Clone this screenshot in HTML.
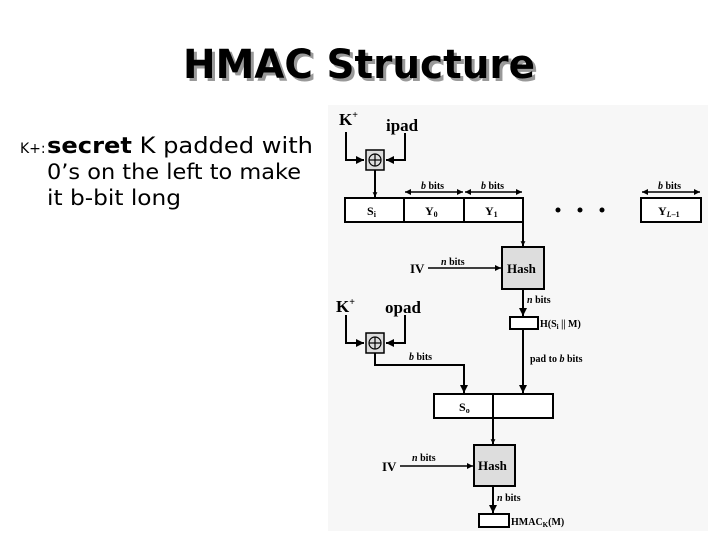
<!DOCTYPE html>
<html><head><meta charset="utf-8"><style>
html,body{margin:0;padding:0;background:#fff;width:720px;height:540px;overflow:hidden}
svg{display:block}
.s{font-family:"Liberation Serif",serif;font-weight:bold;fill:#000}
.bi{font-family:"Liberation Serif",serif;font-weight:bold;font-size:10px;fill:#000}
</style></head><body>
<svg width="720" height="540" viewBox="0 0 720 540" xmlns="http://www.w3.org/2000/svg">
<defs>
<marker id="a" viewBox="0 0 10 10" refX="10" refY="5" markerWidth="4" markerHeight="4" orient="auto-start-reverse"><path d="M0,0L10,5L0,10z" fill="#000"/></marker>
<marker id="big" viewBox="0 0 10 10" refX="10" refY="5" markerWidth="2.4" markerHeight="3" orient="auto"><path d="M0,0L10,5L0,10z" fill="#000"/></marker>
</defs>
<!-- title -->
<text x="186" y="81" font-family="DejaVu Sans,sans-serif" font-weight="bold" font-size="40" fill="#999" textLength="352" lengthAdjust="spacingAndGlyphs">HMAC Structure</text>
<text x="183" y="78" font-family="DejaVu Sans,sans-serif" font-weight="bold" font-size="40" fill="#000" textLength="352" lengthAdjust="spacingAndGlyphs">HMAC Structure</text>
<!-- left text -->
<g font-family="DejaVu Sans,sans-serif" fill="#000">
<text x="20" y="153" font-size="14">K+:</text>
<text x="47" y="153" font-size="22" textLength="266" lengthAdjust="spacingAndGlyphs"><tspan font-weight="bold">secret</tspan> K padded with</text>
<text x="47" y="179" font-size="21" textLength="254" lengthAdjust="spacingAndGlyphs">0’s on the left to make</text>
<text x="47" y="205" font-size="21" textLength="134" lengthAdjust="spacingAndGlyphs">it b-bit long</text>
</g>
<!-- figure bg -->
<rect x="328" y="105" width="380" height="426" fill="#f7f7f7"/>
<g stroke="#000" stroke-width="2" fill="none">
<!-- top xor -->
<polyline points="346,132 346,160 364,160" marker-end="url(#a)"/>
<polyline points="405,133 405,160 386,160" marker-end="url(#a)"/>
<rect x="366" y="150" width="18" height="20" fill="#ddd" stroke-width="1.5"/>
<circle cx="375" cy="160" r="6" stroke-width="1.2"/>
<line x1="369" y1="160" x2="381" y2="160" stroke-width="1.2"/><line x1="375" y1="154" x2="375" y2="166" stroke-width="1.2"/>
<line x1="375" y1="170" x2="375" y2="197" marker-end="url(#big)"/>
<!-- row -->
<rect x="345" y="198" width="178" height="24" fill="#fff"/>
<line x1="404" y1="198" x2="404" y2="222"/><line x1="464" y1="198" x2="464" y2="222"/>
<rect x="641" y="198" width="60" height="24" fill="#fff"/>
<line x1="405" y1="192" x2="463" y2="192" stroke-width="1.5" marker-start="url(#a)" marker-end="url(#a)"/>
<line x1="465" y1="192" x2="522" y2="192" stroke-width="1.5" marker-start="url(#a)" marker-end="url(#a)"/>
<line x1="642" y1="192" x2="700" y2="192" stroke-width="1.5" marker-start="url(#a)" marker-end="url(#a)"/>
<line x1="523" y1="222" x2="523" y2="246" marker-end="url(#big)"/>
<rect x="502" y="247" width="42" height="42" fill="#ddd"/>
<line x1="428" y1="268" x2="501" y2="268" stroke-width="1.5" marker-end="url(#a)"/>
<line x1="523" y1="289" x2="523" y2="316" marker-end="url(#a)"/>
<rect x="510" y="317" width="28" height="12" fill="#fff"/>
<line x1="523" y1="329" x2="523" y2="393" marker-end="url(#a)"/>
<!-- bottom xor -->
<polyline points="346,315 346,343 364,343" marker-end="url(#a)"/>
<polyline points="405,315 405,343 386,343" marker-end="url(#a)"/>
<rect x="366" y="333" width="18" height="20" fill="#ddd" stroke-width="1.5"/>
<circle cx="375" cy="343" r="6" stroke-width="1.2"/>
<line x1="369" y1="343" x2="381" y2="343" stroke-width="1.2"/><line x1="375" y1="337" x2="375" y2="349" stroke-width="1.2"/>
<polyline points="375,353 375,365 464,365 464,393" marker-end="url(#a)"/>
<rect x="434" y="394" width="119" height="24" fill="#fff"/>
<line x1="493" y1="394" x2="493" y2="418"/>
<line x1="493" y1="418" x2="493" y2="444" marker-end="url(#big)"/>
<rect x="474" y="445" width="41" height="41" fill="#ddd"/>
<line x1="400" y1="466" x2="473" y2="466" stroke-width="1.5" marker-end="url(#a)"/>
<line x1="493" y1="486" x2="493" y2="513" marker-end="url(#a)"/>
<rect x="479" y="514" width="30" height="13" fill="#fff"/>
</g>
<g fill="#000"><circle cx="558" cy="210" r="2.5"/><circle cx="580" cy="210" r="2.5"/><circle cx="602" cy="210" r="2.5"/></g>
<text class="s" x="339" y="125" font-size="17">K<tspan font-size="10" dy="-7">+</tspan></text>
<text class="s" x="386" y="131" font-size="17">ipad</text>
<text class="s" x="336" y="312" font-size="17">K<tspan font-size="10" dy="-7">+</tspan></text>
<text class="s" x="385" y="313" font-size="17">opad</text>
<text class="bi" x="421" y="189"><tspan font-style="italic">b</tspan> bits</text>
<text class="bi" x="481" y="189"><tspan font-style="italic">b</tspan> bits</text>
<text class="bi" x="658" y="189"><tspan font-style="italic">b</tspan> bits</text>
<text class="s" x="367" y="215" font-size="12">S<tspan font-size="8" dy="2">i</tspan></text>
<text class="s" x="425" y="215" font-size="12">Y<tspan font-size="8" dy="2">0</tspan></text>
<text class="s" x="485" y="215" font-size="12">Y<tspan font-size="8" dy="2">1</tspan></text>
<text class="s" x="658" y="215" font-size="12">Y<tspan font-size="8" dy="2" font-style="italic">L</tspan><tspan font-size="8">–1</tspan></text>
<text class="s" x="410" y="273" font-size="13">IV</text>
<text class="bi" x="441" y="265"><tspan font-style="italic">n</tspan> bits</text>
<text class="s" x="507" y="273" font-size="13">Hash</text>
<text class="bi" x="527" y="303"><tspan font-style="italic">n</tspan> bits</text>
<text class="bi" x="540" y="327">H(S<tspan font-size="7" dy="2">i</tspan><tspan dy="-2"> || M)</tspan></text>
<text class="bi" x="530" y="362">pad to <tspan font-style="italic">b</tspan> bits</text>
<text class="bi" x="409" y="360"><tspan font-style="italic">b</tspan> bits</text>
<text class="s" x="459" y="411" font-size="12">S<tspan font-size="8" dy="2">o</tspan></text>
<text class="s" x="382" y="471" font-size="13">IV</text>
<text class="bi" x="412" y="461"><tspan font-style="italic">n</tspan> bits</text>
<text class="s" x="478" y="470" font-size="13">Hash</text>
<text class="bi" x="497" y="501"><tspan font-style="italic">n</tspan> bits</text>
<text class="bi" x="511" y="525">HMAC<tspan font-size="7" dy="2">K</tspan><tspan dy="-2">(M)</tspan></text>
</svg>
</body></html>
